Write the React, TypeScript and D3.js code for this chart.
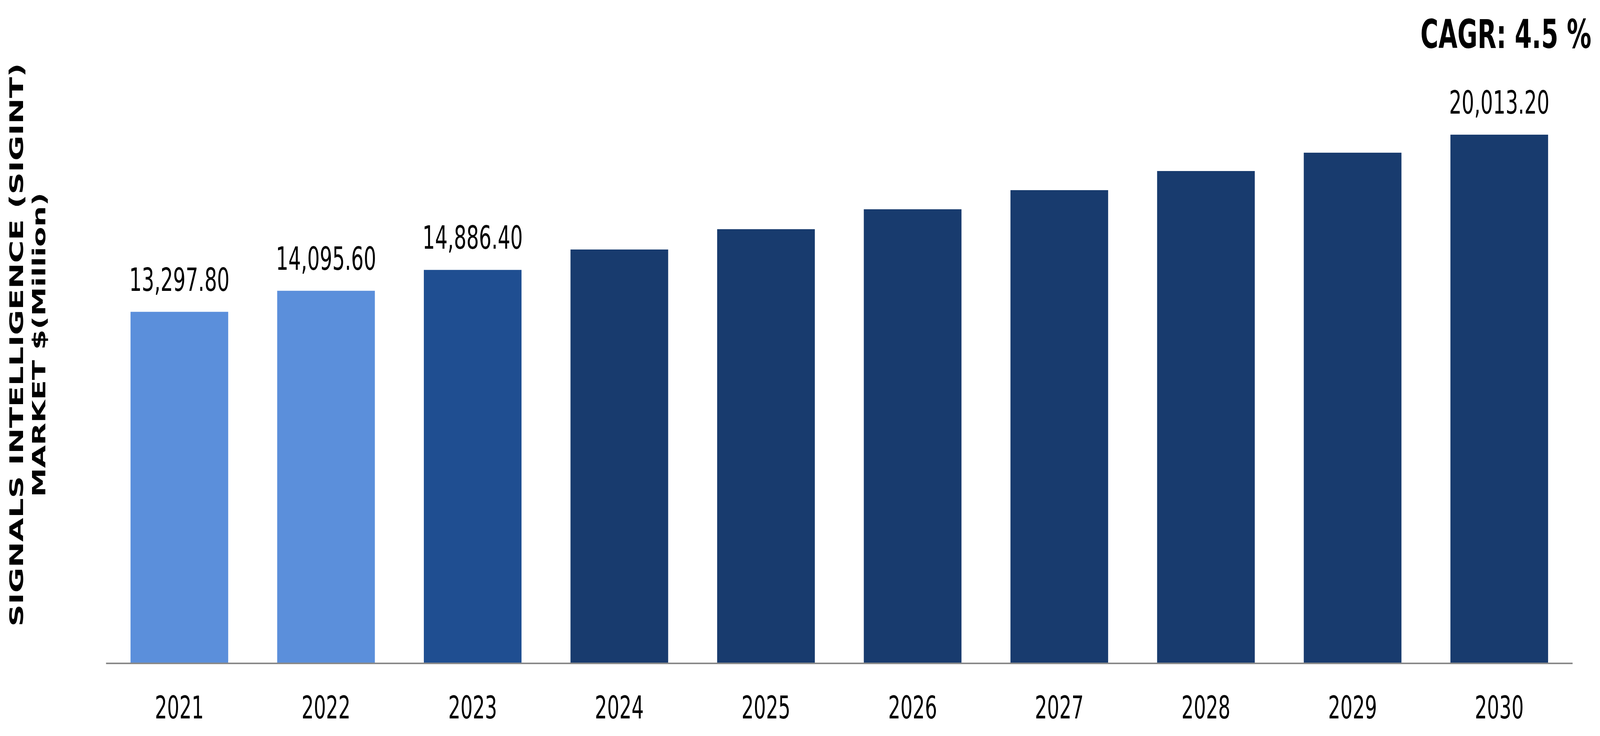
import * as d3 from "d3";

const years = ["2021", "2022", "2023", "2024", "2025", "2026", "2027", "2028", "2029", "2030"];
const values = [13297.8, 14095.6, 14886.4, 15660, 16430, 17185, 17910, 18635, 19330, 20013.2];
const barColors = ["#5b8fdb", "#5b8fdb", "#1f4e91", "#183b6e", "#183b6e", "#183b6e", "#183b6e", "#183b6e", "#183b6e", "#183b6e"];
const labelledYears = ["2021", "2022", "2023", "2030"];
const titleLines = ["SIGNALS INTELLIGENCE (SIGINT)", "MARKET $(Million)"];
const cagrText = "CAGR: 4.5 %";

const width = 6654;
const height = 1885;
const font = "'DejaVu Sans', Verdana, sans-serif";

const App = () => {
  const x = d3.scaleBand().domain(years).range([441, 6540]).paddingInner(0.334).paddingOuter(0.167);
  const y = d3.scaleLinear().domain([0, 25000]).range([1697, 8]);
  const fmt = d3.format(",.2f");
  const titleSizes = [79, 75];

  // the window is narrower than the chart, so stretch the chart's layout over the whole window
  return (
    <svg
      viewBox={`0 0 ${width} ${height}`}
      preserveAspectRatio="none"
      style={{
        position: "absolute",
        left: 0,
        top: 0,
        width: "100vw",
        height: "100vh",
        display: "block",
        background: "#fff",
      }}
      fontFamily={font}
    >
      {years.map((yr, i) => (
        <rect
          key={yr}
          x={x(yr)}
          y={y(values[i])}
          width={x.bandwidth()}
          height={y(0) - y(values[i])}
          fill={barColors[i]}
        />
      ))}

      {/* axis line */}
      <line x1={441} x2={6540} y1={1699} y2={1699} stroke="#898989" strokeWidth={4} />

      {years.map((yr) => (
        <text key={"t" + yr} x={x(yr)! + x.bandwidth() / 2} y={1840} textAnchor="middle" fontSize={80} fill="#000">
          {yr}
        </text>
      ))}

      {years.map((yr, i) =>
        labelledYears.includes(yr) ? (
          <text
            key={"l" + yr}
            x={x(yr)! + x.bandwidth() / 2}
            y={y(values[i]) - 54}
            textAnchor="middle"
            fontSize={82}
            fill="#000"
          >
            {fmt(values[i])}
          </text>
        ) : null
      )}

      <g transform="translate(0,883) rotate(-90)">
        {titleLines.map((t, i) => (
          <text key={t} x={0} y={96 + i * 92} textAnchor="middle" fontSize={titleSizes[i]} fontWeight="bold" fill="#000">
            {t}
          </text>
        ))}
      </g>

      <text x={6618} y={123} textAnchor="end" fontSize={102} fontWeight="bold" fill="#000">
        {cagrText}
      </text>
    </svg>
  );
};

export default App;
